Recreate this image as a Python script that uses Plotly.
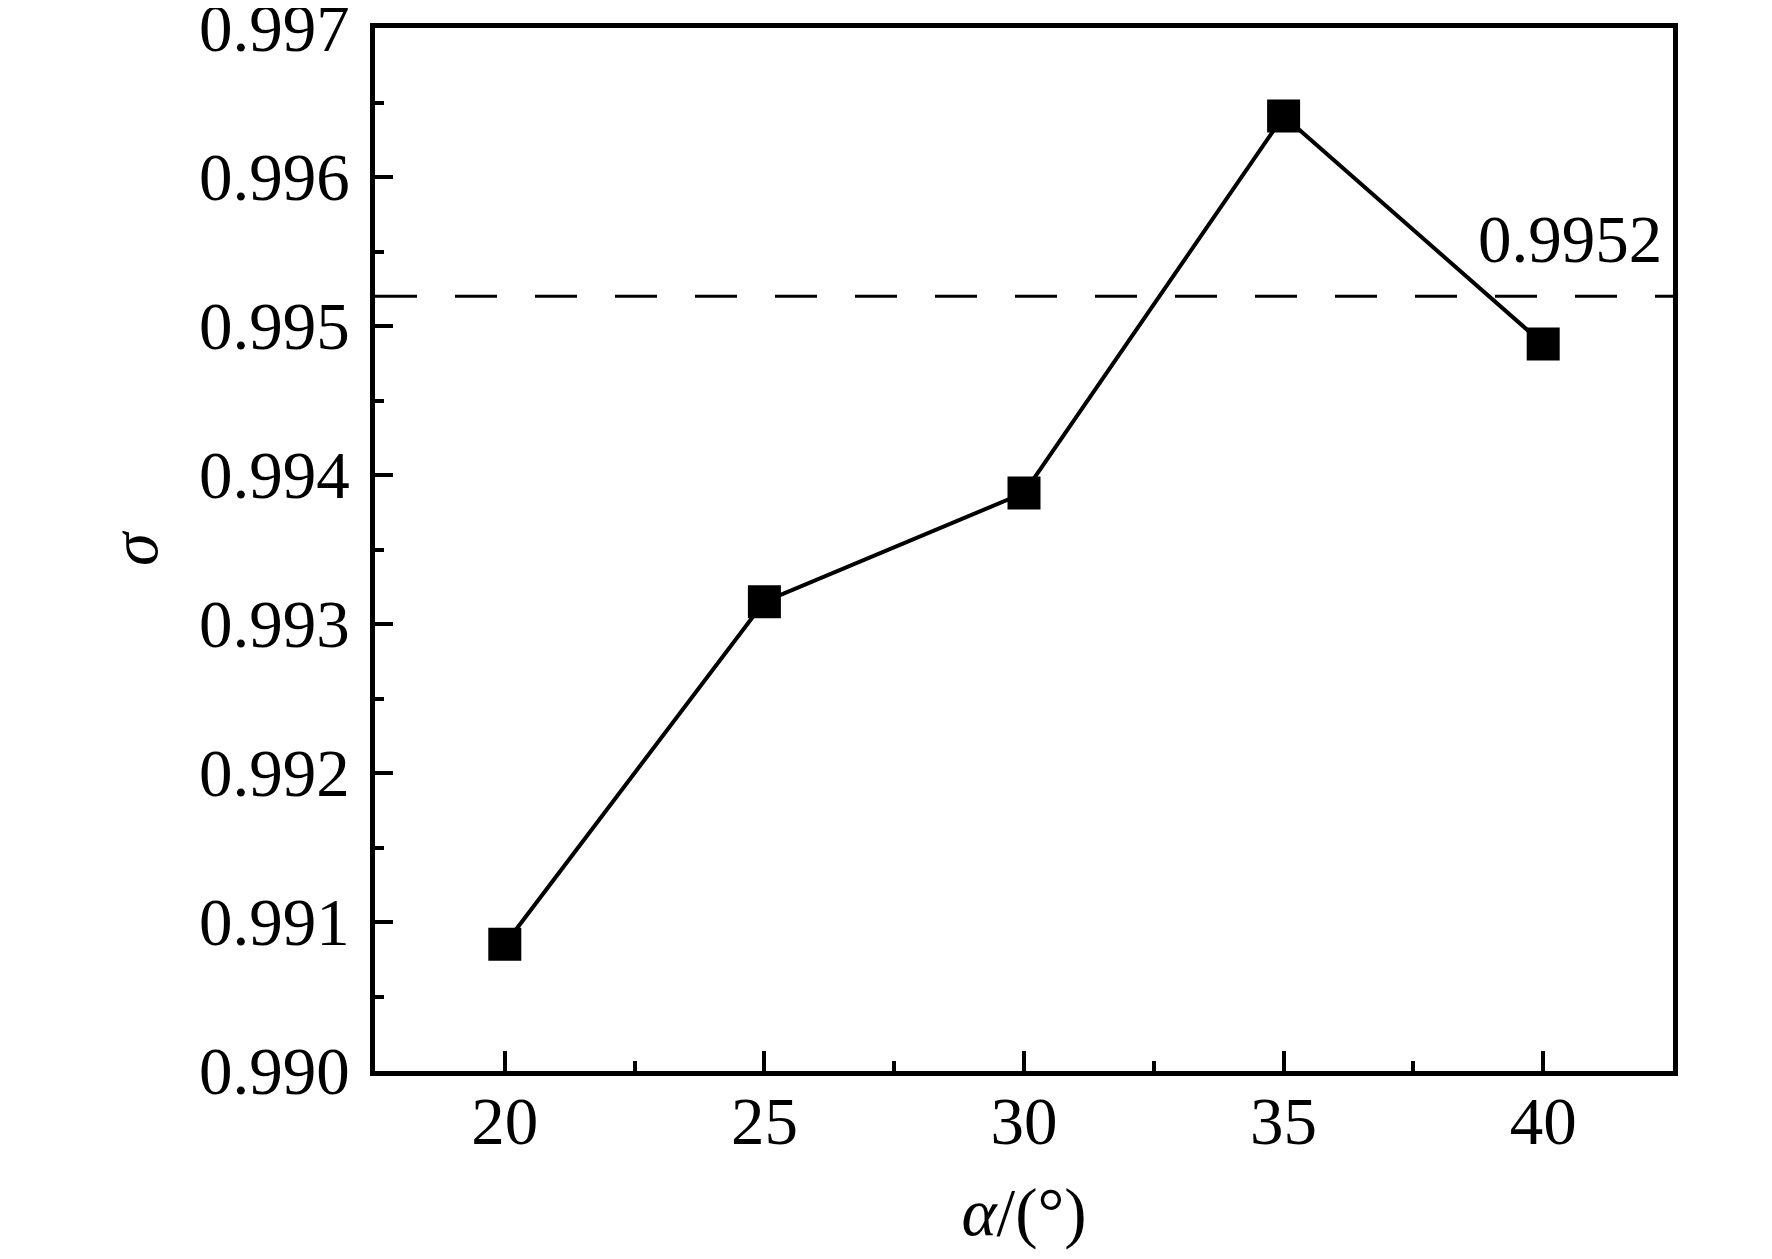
import plotly.graph_objects as go

# data
alpha = [20, 25, 30, 35, 40]
sigma = [0.99085, 0.99315, 0.99388, 0.99641, 0.99488]
threshold = 0.9952
threshold_label = "0.9952"
x_ticks = [20, 25, 30, 35, 40]
y_ticks = [0.990, 0.991, 0.992, 0.993, 0.994, 0.995, 0.996, 0.997]

FONT = "Liberation Serif"
FS = 67

fig = go.Figure()
fig.add_trace(go.Scatter(
    x=alpha, y=sigma, mode="lines+markers",
    line=dict(color="black", width=4),
    marker=dict(symbol="square", size=33, color="black"),
    showlegend=False,
))

fig.add_shape(type="line", xref="paper", yref="y", x0=0, x1=1,
              y0=threshold, y1=threshold,
              line=dict(color="black", width=3, dash="42px,38px"))

fig.add_annotation(xref="paper", yref="y", x=1, y=threshold,
                   text=threshold_label, showarrow=False,
                   xanchor="right", yanchor="bottom", xshift=-9, yshift=18,
                   font=dict(family=FONT, size=FS, color="black"))

fig.update_layout(
    width=1772, height=1259,
    margin=dict(l=367, r=107, t=20, b=196),
    plot_bgcolor="white", paper_bgcolor="white",
    font=dict(family=FONT, size=FS, color="black"),
)

fig.update_xaxes(
    range=[17.5, 42.5], tickvals=x_ticks, ticktext=[str(v) for v in x_ticks],
    ticks="inside", ticklen=20, tickwidth=4, tickcolor="black",
    showline=True, linewidth=4.5, linecolor="black", mirror=True,
    showgrid=False, zeroline=False, automargin=False,
    minor=dict(ticks="inside", ticklen=10, tickwidth=4, tickcolor="black", dtick=2.5, tick0=17.5, showgrid=False),
    ticklabelstandoff=-12,
    title=dict(text="<i>α</i>/(°)", standoff=32, font=dict(family=FONT, size=FS)),
)
fig.update_yaxes(
    range=[0.990, 0.9970001], tickvals=y_ticks, ticktext=[f"{v:.3f}" for v in y_ticks],
    ticks="inside", ticklen=18, tickwidth=4, tickcolor="black",
    showline=True, linewidth=4.5, linecolor="black", mirror=True,
    showgrid=False, zeroline=False, automargin=False,
    ticklabeloverflow="allow",
    minor=dict(ticks="inside", ticklen=9, tickwidth=4, tickcolor="black", dtick=0.0005, tick0=0.9895, showgrid=False),
    ticklabelstandoff=7,
    title=dict(text="<i>σ</i>", standoff=21, font=dict(family=FONT, size=FS)),
)

fig.write_html("out.html")
